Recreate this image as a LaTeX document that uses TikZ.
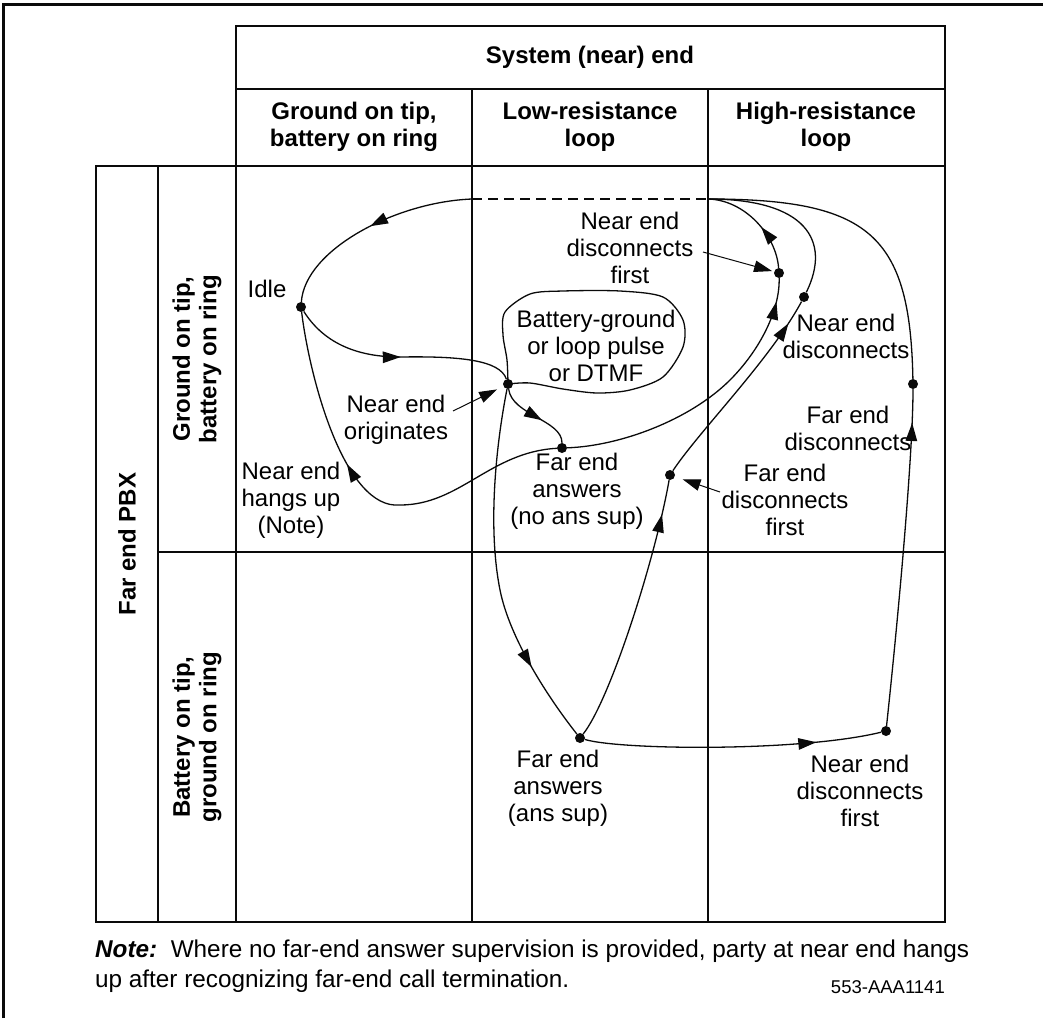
\documentclass[tikz,border=0pt]{standalone}
\usepackage{fontspec}
\setmainfont{Liberation Sans}
\usetikzlibrary{arrows.meta,decorations.markings}
\definecolor{lnblack}{RGB}{10,10,10}

\begin{document}
\begin{tikzpicture}[x=1pt,y=-1pt,
    grid/.style={line width=1.3pt,draw=lnblack},
    lbl/.style={font=\fontsize{24}{27}\selectfont,align=center,inner sep=0pt},
    hdr/.style={font=\fontsize{24}{26.5}\selectfont\bfseries,align=center,inner sep=0pt},
    side/.style={hdr,rotate=90},
    dot/.style={circle,fill=lnblack,inner sep=0pt,minimum size=10pt},
    ln/.style={line width=1.3pt,draw=lnblack},
    midarr/.style={ln,postaction={decorate},decoration={markings,
        mark=at position #1 with {\arrow{Triangle[length=18pt,width=11.5pt]}}}},
    arr/.style={-{Triangle[length=18pt,width=11.5pt]},line width=1pt,draw=lnblack}
  ]
    \useasboundingbox (0,0) rectangle (1043,1018);
    % frame
    \draw[line width=3pt,lnblack] (3.5,1018) -- (3.5,4.5) -- (1043,4.5);

    % table
    \draw[grid] (236,26) rectangle (945,922);
    \draw[grid] (236,89) -- (945,89);
    \draw[grid] (96,166) rectangle (236,922);
    \draw[grid] (236,166) -- (945,166);
    \draw[grid] (158,166) -- (158,922);
    \draw[grid] (158,552) -- (945,552);
    \foreach \x in {472,708} \draw[grid] (\x,89) -- (\x,922);

    % headings
    \node[hdr] (sys) at (590,57) {System (near) end};
    \node[hdr] (colgt) at (354,127) {Ground on tip,\\battery on ring};
    \node[hdr] (collo) at (590,127) {Low-resistance\\loop};
    \node[hdr] (colhi) at (826,127) {High-resistance\\loop};
    \node[side] (pbx) at (127,544) {Far end PBX};
    \node[side] (rowgt) at (197,359) {Ground on tip,\\battery on ring};
    \node[side] (rowbt) at (197,737) {Battery on tip,\\ground on ring};

    % states
    \node[dot] (idle) at (301,307) {};
    \node[dot] (dial) at (508,384) {};
    \node[dot] (ansno) at (562,448) {};
    \node[dot] (nedf) at (779,273) {};
    \node[dot] (ned) at (804,297) {};
    \node[dot] (fedf) at (670,475) {};
    \node[dot] (ans) at (580,738) {};
    \node[dot] (nedfb) at (886,731) {};
    \node[dot] (fed) at (913,384) {};
    \coordinate (topl) at (472,199);
    \coordinate (topr) at (708,199);

    % state labels
    \node[lbl] (idlelbl) at (267,289) {Idle};
    \node[lbl] (orig) at (396,420) {Near end\\originates};
    \node[lbl] (hang) at (291,500) {Near end\\hangs up\\(Note)};
    \node[lbl] (pulse) at (596,346) {Battery-ground\\or loop pulse\\or DTMF};
    \node[lbl] (ansnolbl) at (577,491) {Far end\\answers\\(no ans sup)};
    \node[lbl] (nedflbl) at (630,248) {Near end\\disconnects\\first};
    \node[lbl] (nedlbl) at (846,336) {Near end\\disconnects};
    \node[lbl] (fedlbl) at (848,428) {Far end\\disconnects};
    \node[lbl] (fedflbl) at (785,500) {Far end\\disconnects\\first};
    \node[lbl] (anslbl) at (558,788) {Far end\\answers\\(ans sup)};
    \node[lbl] (nedfblbl) at (860,791) {Near end\\disconnects\\first};

    % transitions
    \draw[ln,dash pattern=on 10pt off 6pt] (topl) -- (topr);
    \draw[midarr=0.5] (topl) .. controls (395,202) and (305,250) .. (idle);
    \draw[midarr=0.5] (idle) .. controls (325,345) and (360,357) .. (400,357)
      .. controls (460,356) and (500,360) .. (dial);
    \draw[ln] plot[smooth] coordinates {(508,384) (530,383) (563,389) (597,393)
      (630,390) (663,377) (683,347) (683,320) (663,297) (620,291) (563,291)
      (530,294) (505,312) (503,335) (507,360) (508,384)};
    \draw[midarr=0.6] (dial) .. controls (512,415) and (562,420) .. (ansno);
    \draw[midarr=0.6] (ansno) .. controls (490,452) and (460,505) .. (400,505)
      .. controls (345,510) and (310,380) .. (idle);
    \draw[midarr=0.92] (ansno) .. controls (620,446) and (690,420) .. (730,380)
      .. controls (760,350) and (780,310) .. (nedf);
    \draw[midarr=0.42] (nedf) .. controls (776,235) and (745,200) .. (topr);
    \draw[ln] (ned) .. controls (832,240) and (805,199) .. (topr);
    \draw[midarr=0.88] (fedf) .. controls (700,430) and (770,360) .. (ned);
    \draw[midarr=0.87] (ans) .. controls (610,700) and (655,560) .. (fedf);
    \draw[midarr=0.78] (dial) .. controls (495,450) and (488,530) .. (500,590)
      .. controls (510,640) and (550,700) .. (ans);
    \draw[midarr=0.78] (ans) .. controls (620,750) and (800,752) .. (nedfb);
    \draw[midarr=0.9] (nedfb) .. controls (900,600) and (913,450) .. (fed);
    \draw[ln] (fed) .. controls (910,235) and (870,199) .. (topr);

    % pointers
    \coordinate (origtail) at (453,411);
    \coordinate (nedftail) at (703,252);
    \coordinate (fedftail) at (720,492);
    \draw[arr,shorten >=7pt] (origtail) -- (dial);
    \draw[arr,shorten >=2pt] (nedftail) -- (nedf);
    \draw[arr,shorten >=8pt] (fedftail) -- (fedf);

    % note
    \node[anchor=north west,font=\fontsize{24.3}{30}\selectfont,align=left,inner sep=0pt]
      (note) at (95,940) {\textbf{\textit{Note:}}\ \ Where no far-end answer supervision is provided, party at near end hangs\\up after recognizing far-end call termination.};
    \node[anchor=base east,font=\fontsize{18.5}{20}\selectfont,inner sep=0pt]
      (fig) at (945,993) {553-AAA1141};
  \end{tikzpicture}
\end{document}
